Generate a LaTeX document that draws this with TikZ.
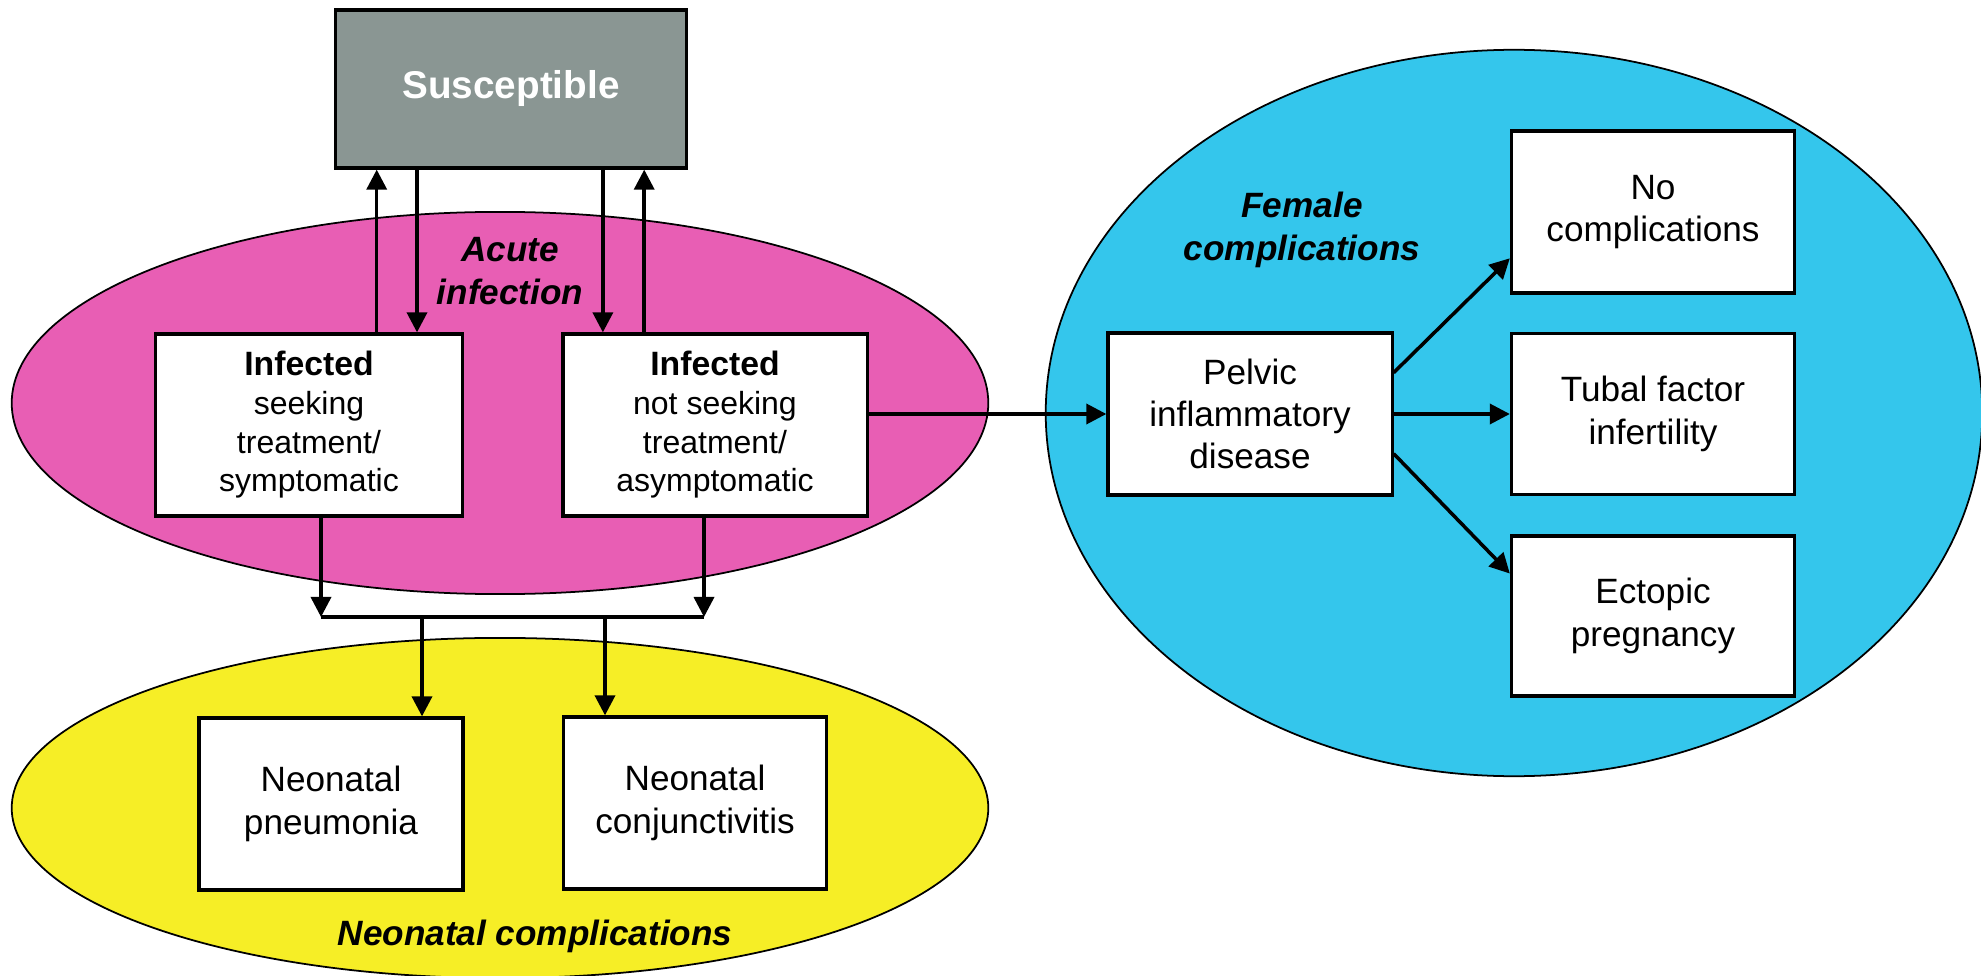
\documentclass[tikz,border=0pt]{standalone}
\usepackage{fontspec}
\setmainfont{Liberation Sans}
\usepackage{tikz}
\usetikzlibrary{shapes,arrows.meta,calc}
\usepackage{xcolor}

\definecolor{acutepink}{RGB}{232,94,180}
\definecolor{neoyellow}{RGB}{246,238,38}
\definecolor{femaleblue}{RGB}{52,198,236}
\definecolor{suscgray}{RGB}{138,150,147}

\tikzset{
  box/.style={draw=black, line width=0.9pt, fill=white, align=center, inner sep=2pt,
    font=\fontsize{10}{12}\selectfont},
  infbox/.style={box, font=\fontsize{9.1}{11}\selectfont},
  region/.style={ellipse, draw=black, line width=0.5pt, inner sep=0pt},
  tag/.style={font=\fontsize{10}{12.2}\selectfont\bfseries\itshape, align=center},
  arr/.style={line width=1pt, -{Triangle[length=0.2cm,width=0.2cm]}},
  link/.style={line width=1pt}
}

\begin{document}
\begin{tikzpicture}[x=0.01cm, y=-0.01cm]
    \useasboundingbox (0,0) rectangle (1981,976);

    % Regions
    \node[region, fill=acutepink, minimum width=9.76cm, minimum height=3.82cm] (acute) at (500,403) {};
    \node[region, fill=neoyellow, minimum width=9.76cm, minimum height=3.4cm] (neo) at (500,808) {};
    \node[region, fill=femaleblue, minimum width=9.36cm, minimum height=7.26cm] (female) at (1514,413) {};
    \node[tag] (acutelbl) at (510,271) {Acute\\infection};
    \node[tag] (femalelbl) at (1302,230) {Female\\complications};
    \node[tag] (neolbl) at (535,936) {Neonatal complications};

    % Susceptible
    \node[draw, line width=0.9pt, fill=suscgray, text=white, minimum width=3.5cm, minimum height=1.58cm,
      font=\fontsize{11}{13}\selectfont\bfseries] (susc) at (511,89) {Susceptible};

    % Infected
    \node[infbox, minimum width=3.06cm, minimum height=1.82cm] (inf1) at (309,425)
      {{\fontsize{9.6}{11}\selectfont\bfseries Infected}\\seeking\\treatment/\\symptomatic};
    \node[infbox, minimum width=3.04cm, minimum height=1.82cm] (inf2) at (715,425)
      {{\fontsize{9.6}{11}\selectfont\bfseries Infected}\\not seeking\\treatment/\\asymptomatic};

    % Neonatal
    \node[box, minimum width=2.64cm, minimum height=1.72cm] (pneu) at (331,804) {Neonatal\\pneumonia};
    \node[box, minimum width=2.63cm, minimum height=1.72cm] (conj) at (695,803) {Neonatal\\conjunctivitis};

    % Female
    \node[box, minimum width=2.84cm, minimum height=1.62cm] (pid) at (1250,414) {Pelvic\\inflammatory\\disease};
    \node[box, minimum width=2.83cm, minimum height=1.62cm] (nocomp) at (1653,212) {No\\complications};
    \node[box, minimum width=2.83cm, minimum height=1.61cm] (tubal) at (1653,414) {Tubal factor\\infertility};
    \node[box, minimum width=2.83cm, minimum height=1.6cm] (ectopic) at (1653,616) {Ectopic\\pregnancy};

    % Susceptible <-> infected
    \coordinate (s1) at ($(susc.south west)!0.12!(susc.south east)$);
    \coordinate (s2) at ($(susc.south west)!0.234!(susc.south east)$);
    \coordinate (s3) at ($(susc.south west)!0.76!(susc.south east)$);
    \coordinate (s4) at ($(susc.south west)!0.877!(susc.south east)$);
    \draw[arr] (s1 |- inf1.north) -- (s1);
    \draw[arr] (s2) -- (s2 |- inf1.north);
    \draw[arr] (s3) -- (s3 |- inf2.north);
    \draw[arr] (s4 |- inf2.north) -- (s4);

    % Infected -> neonatal
    \coordinate (jl) at (321,617);
    \coordinate (jr) at (704,617);
    \coordinate (ja) at (422,617);
    \coordinate (jb) at (605,617);
    \draw[arr] (inf1.south -| jl) -- (jl);
    \draw[arr] (inf2.south -| jr) -- (jr);
    \draw[link] (jl) -- (jr);
    \draw[arr] (ja) -- (ja |- pneu.north);
    \draw[arr] (jb) -- (jb |- conj.north);

    % Infected -> female
    \draw[arr] (pid.west -| inf2.east) -- (pid.west);
    \draw[arr] ($(pid.north east)!0.25!(pid.south east)$) -- ($(nocomp.north west)!0.78!(nocomp.south west)$);
    \draw[arr] (pid.east) -- (tubal.west);
    \draw[arr] ($(pid.north east)!0.74!(pid.south east)$) -- ($(ectopic.north west)!0.24!(ectopic.south west)$);
\end{tikzpicture}
\end{document}
